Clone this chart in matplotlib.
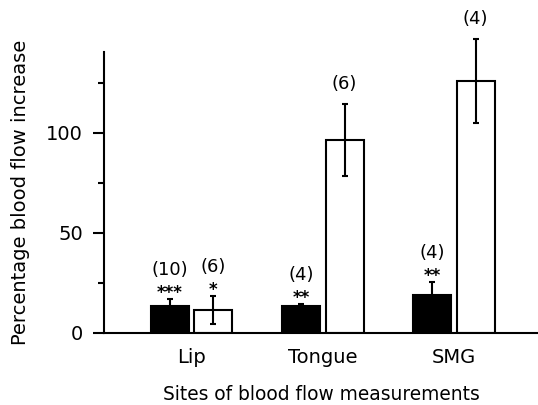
import numpy as np
import matplotlib
matplotlib.use("Agg")
import matplotlib.pyplot as plt
from matplotlib.ticker import MultipleLocator

plt.rcParams['font.family'] = ['DejaVu Sans']

# data
sites = ['Lip', 'Tongue', 'SMG']
black_vals = [13.5, 13.5, 19]
black_err = [3.5, 1.0, 6.5]
white_vals = [11.5, 96.5, 126]
white_err = [7, 18, 21]
black_n = ['(10)', '(4)', '(4)']
black_stars = ['***', '**', '**']
white_n = ['(6)', '(6)', '(4)']
white_stars = ['*', '', '']

fig = plt.figure(figsize=(5.38, 4.05), dpi=100)
ax = fig.add_axes([0.193, 0.178, 0.807, 0.694])

x = np.arange(len(sites))
w = 0.29
off = 0.165
ekw = dict(ecolor='black', elinewidth=1.5, capsize=2.5, capthick=1.5, clip_on=False)

ax.bar(x - off, black_vals, w, color='black', edgecolor='black', linewidth=1.5,
       yerr=black_err, error_kw=ekw)
ax.bar(x + off, white_vals, w, color='white', edgecolor='black', linewidth=1.5,
       yerr=white_err, error_kw=ekw)

def label(xpos, top, n, stars):
    if stars:
        ax.annotate(stars, (xpos, top), xytext=(0, 1), textcoords='offset pixels',
                    ha='center', va='baseline', fontsize=12, fontweight='bold',
                    annotation_clip=False)
        ax.annotate(n, (xpos, top), xytext=(0, 24), textcoords='offset pixels',
                    ha='center', va='baseline', fontsize=13, annotation_clip=False)
    else:
        ax.annotate(n, (xpos, top), xytext=(0, 15), textcoords='offset pixels',
                    ha='center', va='baseline', fontsize=13, annotation_clip=False)

for i in range(len(sites)):
    label(x[i] - off, black_vals[i] + black_err[i], black_n[i], black_stars[i])
    label(x[i] + off, white_vals[i] + white_err[i], white_n[i], white_stars[i])

ax.set_xlim(-0.67, 2.64)
ax.set_ylim(0, 140.5)
ax.spines['top'].set_visible(False)
ax.spines['right'].set_visible(False)
ax.spines['left'].set_linewidth(1.5)
ax.spines['bottom'].set_linewidth(1.5)
ax.yaxis.set_major_locator(MultipleLocator(50))
ax.yaxis.set_minor_locator(MultipleLocator(25))
ax.tick_params(axis='y', which='major', length=8, width=1.5, labelsize=14, pad=7)
ax.tick_params(axis='y', which='minor', length=4, width=1.5)
ax.tick_params(axis='x', length=0, labelsize=14, pad=11)
ax.set_xticks(x)
ax.set_xticklabels(sites)
ax.set_xlabel('Sites of blood flow measurements', fontsize=13.4, labelpad=13)
ax.set_ylabel('Percentage blood flow increase', fontsize=14)
ax.yaxis.set_label_coords(-0.17, 0.5)

fig.savefig('out.png', dpi=100)
